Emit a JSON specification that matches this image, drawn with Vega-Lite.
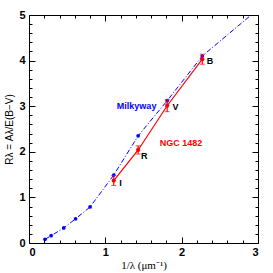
{
  "$schema": "https://vega.github.io/schema/vega-lite/v6.json",
  "autosize": "none",
  "width": 229,
  "height": 228,
  "padding": {"left": 29, "top": 15, "right": 15, "bottom": 30},
  "background": "white",
  "config": {"view": {"stroke": null}},
  "datasets": {
    "mw": [
      {"x": 0.21, "y": 0.08},
      {"x": 0.29, "y": 0.16},
      {"x": 0.455, "y": 0.33},
      {"x": 0.61, "y": 0.53},
      {"x": 0.80, "y": 0.79},
      {"x": 1.11, "y": 1.49},
      {"x": 1.43, "y": 2.35},
      {"x": 1.81, "y": 3.12},
      {"x": 2.27, "y": 4.10}
    ],
    "mwline": [
      {"x": 0.21, "y": 0.08},
      {"x": 0.29, "y": 0.16},
      {"x": 0.455, "y": 0.33},
      {"x": 0.61, "y": 0.53},
      {"x": 0.80, "y": 0.79},
      {"x": 1.11, "y": 1.49},
      {"x": 1.43, "y": 2.35},
      {"x": 1.81, "y": 3.12},
      {"x": 2.27, "y": 4.10},
      {"x": 2.91, "y": 5.0}
    ],
    "ngc": [
      {"x": 1.11, "y": 1.37, "e": 0.11},
      {"x": 1.43, "y": 2.04, "e": 0.09},
      {"x": 1.81, "y": 3.01, "e": 0.13},
      {"x": 2.27, "y": 4.03, "e": 0.11}
    ],
    "labels": [
      {"x": 1.20, "y": 1.31, "t": "I"},
      {"x": 1.51, "y": 1.90, "t": "R"},
      {"x": 1.92, "y": 2.99, "t": "V"},
      {"x": 2.37, "y": 4.0, "t": "B"}
    ],
    "names": [
      {"x": 1.41, "y": 3.01, "t": "Milkyway", "c": "#0000ff"},
      {"x": 1.99, "y": 2.19, "t": "NGC 1482", "c": "#ff0000"}
    ]
  },
  "layer": [
    {
      "data": {"name": "mwline"},
      "mark": {"type": "line", "color": "#0000ff", "strokeWidth": 1, "strokeDash": [5, 2, 1, 2]},
      "encoding": {
        "x": {"field": "x", "type": "quantitative", "scale": {"domain": [0, 3], "nice": false},
          "axis": {"orient": "bottom", "values": [0,0.2,0.4,0.6,0.8,1,1.2,1.4,1.6,1.8,2,2.2,2.4,2.6,2.8,3],
            "labelExpr": "datum.value % 1 === 0 ? format(datum.value, 'd') : ''",
            "tickSize": {"condition": {"test": "datum.value % 1 === 0", "value": -6}, "value": -3},
            "tickColor": "black", "domainColor": "black", "grid": false,
            "labelFont": "Liberation Sans", "labelFontWeight": "bold", "labelFontSize": 11, "labelColor": "black", "labelPadding": 9,
            "title": "1/λ (μm⁻¹)", "titleFont": "Liberation Serif", "titleFontWeight": "normal", "titleFontSize": 11, "titleColor": "black", "titlePadding": 2}},
        "y": {"field": "y", "type": "quantitative", "scale": {"domain": [0, 5], "nice": false},
          "axis": {"orient": "left", "values": [0,0.2,0.4,0.6,0.8,1,1.2,1.4,1.6,1.8,2,2.2,2.4,2.6,2.8,3,3.2,3.4,3.6,3.8,4,4.2,4.4,4.6,4.8,5],
            "labelExpr": "datum.value % 1 === 0 ? format(datum.value, 'd') : ''",
            "tickSize": {"condition": {"test": "datum.value % 1 === 0", "value": -6}, "value": -3},
            "tickColor": "black", "domainColor": "black", "grid": false,
            "labelFont": "Liberation Sans", "labelFontWeight": "bold", "labelFontSize": 11, "labelColor": "black", "labelPadding": 10,
            "title": "Rλ = Aλ/E(B−V)", "titleFont": "Liberation Sans", "titleFontWeight": "normal", "titleFontSize": 10, "titleColor": "black", "titlePadding": 4}}
      }
    },
    {
      "data": {"name": "mw"},
      "mark": {"type": "point", "filled": true, "color": "#0000ff", "size": 14, "opacity": 1},
      "encoding": {
        "x": {"field": "x", "type": "quantitative",
          "axis": {"orient": "top", "values": [0,0.2,0.4,0.6,0.8,1,1.2,1.4,1.6,1.8,2,2.2,2.4,2.6,2.8,3], "labels": false, "title": null,
            "tickSize": {"condition": {"test": "datum.value % 1 === 0", "value": -6}, "value": -3},
            "tickColor": "black", "domainColor": "black", "grid": false}},
        "y": {"field": "y", "type": "quantitative",
          "axis": {"orient": "right", "values": [0,0.2,0.4,0.6,0.8,1,1.2,1.4,1.6,1.8,2,2.2,2.4,2.6,2.8,3,3.2,3.4,3.6,3.8,4,4.2,4.4,4.6,4.8,5], "labels": false, "title": null,
            "tickSize": {"condition": {"test": "datum.value % 1 === 0", "value": -6}, "value": -3},
            "tickColor": "black", "domainColor": "black", "grid": false}}
      }
    },
    {
      "data": {"name": "ngc"},
      "mark": {"type": "line", "color": "#ff0000", "strokeWidth": 1.2},
      "encoding": {
        "x": {"field": "x", "type": "quantitative", "axis": null},
        "y": {"field": "y", "type": "quantitative", "axis": null}
      }
    },
    {
      "data": {"name": "ngc"},
      "mark": {"type": "errorbar", "color": "#ff0000", "ticks": {"size": 5, "color": "#ff0000"}, "rule": {"strokeWidth": 1.2}},
      "encoding": {
        "x": {"field": "x", "type": "quantitative", "axis": null},
        "y": {"field": "y", "type": "quantitative", "axis": null},
        "yError": {"field": "e"}
      }
    },
    {
      "data": {"name": "ngc"},
      "mark": {"type": "point", "filled": true, "color": "#ff0000", "size": 18, "opacity": 1},
      "encoding": {
        "x": {"field": "x", "type": "quantitative", "axis": null},
        "y": {"field": "y", "type": "quantitative", "axis": null}
      }
    },
    {
      "data": {"name": "labels"},
      "mark": {"type": "text", "font": "Liberation Sans", "fontWeight": "bold", "fontSize": 9, "color": "black"},
      "encoding": {
        "x": {"field": "x", "type": "quantitative", "axis": null},
        "y": {"field": "y", "type": "quantitative", "axis": null},
        "text": {"field": "t"}
      }
    },
    {
      "data": {"name": "names"},
      "mark": {"type": "text", "font": "Liberation Sans", "fontWeight": "bold", "fontSize": 9},
      "encoding": {
        "x": {"field": "x", "type": "quantitative", "axis": null},
        "y": {"field": "y", "type": "quantitative", "axis": null},
        "text": {"field": "t"},
        "color": {"field": "c", "type": "nominal", "scale": null}
      }
    }
  ],
  "resolve": {"axis": {"x": "independent", "y": "independent"}}
}
